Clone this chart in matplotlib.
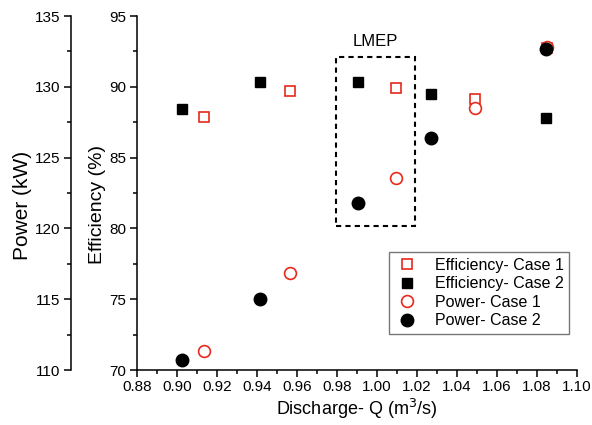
import matplotlib
matplotlib.use("Agg")
import matplotlib.pyplot as plt
from matplotlib.patches import Rectangle
from matplotlib.ticker import MultipleLocator, FormatStrFormatter

plt.rcParams['font.family'] = ['Liberation Sans', 'DejaVu Sans']

# data
q_case1 = [0.9135, 0.9567, 1.0095, 1.0492, 1.0850]
q_case2 = [0.9027, 0.9415, 0.9907, 1.0268, 1.0845]
eff_case1 = [87.85, 89.72, 89.94, 89.14, 92.75]
eff_case2 = [88.43, 90.32, 90.34, 89.47, 87.80]
pow_case1 = [111.36, 116.87, 123.58, 128.48, 132.80]
pow_case2 = [110.70, 115.00, 121.82, 126.36, 132.65]

fig = plt.figure(figsize=(5.92, 4.25), dpi=100)
ax = fig.add_axes([137/592, 1-370/425, 440/592, 354/425])
ax2 = ax.twinx()

# efficiency on inner axis
ax.plot(q_case1, eff_case1, ls='none', marker='s', ms=7.5, mfc='white', mec='#e8291c', mew=1.2,
        label='Efficiency- Case 1', zorder=3)
ax.plot(q_case2, eff_case2, ls='none', marker='s', ms=7.5, color='black', label='Efficiency- Case 2', zorder=3)

# power on outer axis
ax2.plot(q_case1, pow_case1, ls='none', marker='o', ms=8.5, mfc='white', mec='#e8291c', mew=1.2,
         label='Power- Case 1', zorder=3)
ax2.plot(q_case2, pow_case2, ls='none', marker='o', ms=9, color='black', label='Power- Case 2', zorder=4)

ax.set_xlim(0.88, 1.10)
ax.set_ylim(70, 95)
ax2.set_ylim(110, 135)
ax.xaxis.set_major_locator(MultipleLocator(0.02))
ax.xaxis.set_minor_locator(MultipleLocator(0.01))
ax.xaxis.set_major_formatter(FormatStrFormatter('%.2f'))
for a in (ax, ax2):
    a.yaxis.set_major_locator(MultipleLocator(5))
    a.yaxis.set_minor_locator(MultipleLocator(2.5))

for s in ['top', 'right']:
    ax.spines[s].set_visible(False)
for s in ['top', 'right', 'bottom']:
    ax2.spines[s].set_visible(False)
ax2.spines['left'].set_visible(True)
ax2.spines['left'].set_position(('axes', -(137-71)/440))
ax2.yaxis.set_ticks_position('left')
ax2.yaxis.set_label_position('left')
for a in (ax, ax2):
    for s in a.spines.values():
        s.set_linewidth(1.1)
    a.tick_params(which='major', direction='out', length=5, width=1.1, labelsize=11, pad=2.5)
    a.tick_params(which='minor', direction='out', length=3, width=1.1)

ax.set_xlabel('Discharge- Q (m$^3$/s)', fontsize=13, labelpad=2)
ax.set_ylabel('Efficiency (%)', fontsize=14)
ax2.set_ylabel('Power (kW)', fontsize=15)
ax.yaxis.set_label_coords((106-137)/440, (370-205)/354)
ax2.yaxis.set_label_coords((32-137)/440, (370-205)/354)

# LMEP box
ax.add_patch(Rectangle((0.9797, 80.17), 1.019-0.9797, 92.13-80.17, fill=False,
                       ls=(0, (2.5, 2)), lw=1.5, ec='black', zorder=2))
ax.text(0.9994, 93.23, 'LMEP', ha='center', va='center', fontsize=12)

h1, l1 = ax.get_legend_handles_labels()
h2, l2 = ax2.get_legend_handles_labels()
leg = ax2.legend(h1 + h2, l1 + l2, loc='upper left', bbox_to_anchor=(0.573, 0.333),
                 fontsize=11.5, frameon=True, fancybox=False, edgecolor='#555555',
                 borderpad=0.35, labelspacing=0.22, handletextpad=0.9, handlelength=1.6,
                 borderaxespad=0)
leg.get_frame().set_linewidth(1.0)

fig.savefig('out.png', dpi=100)
